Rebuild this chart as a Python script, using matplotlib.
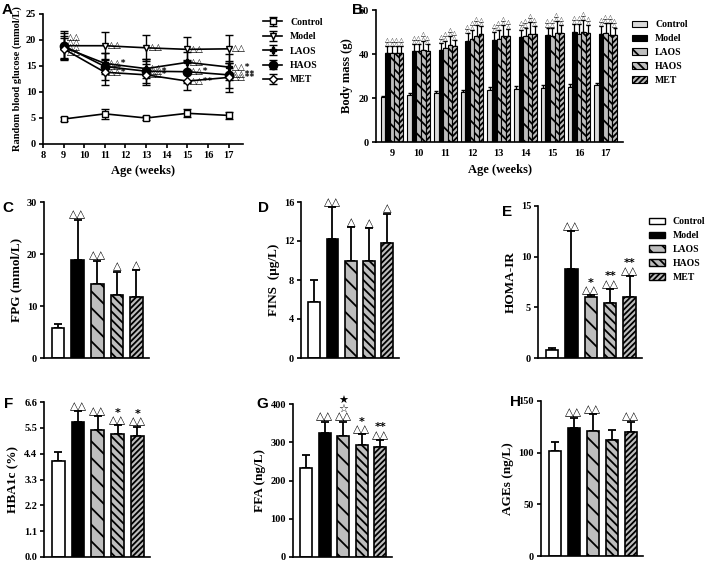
import numpy as np
import matplotlib
matplotlib.use('Agg')
import matplotlib.pyplot as plt
from matplotlib.patches import Patch

plt.rcParams['font.family'] = ['Liberation Serif', 'DejaVu Sans']
plt.rcParams['font.weight'] = 'bold'
plt.rcParams['hatch.linewidth'] = 1.3
plt.rcParams['axes.linewidth'] = 1.2

groups = ['Control', 'Model', 'LAOS', 'HAOS', 'MET']

# panel A: random blood glucose
weeks_a = [9, 11, 13, 15, 17]
glu_mean = {
    'Control': [4.8, 5.8, 5.0, 5.9, 5.5],
    'Model':   [18.9, 18.9, 18.5, 18.2, 18.3],
    'LAOS':    [18.6, 15.5, 14.5, 15.7, 14.8],
    'HAOS':    [18.9, 14.9, 14.0, 13.9, 13.3],
    'MET':     [18.3, 13.8, 13.3, 12.1, 12.8],
}
glu_err = {
    'Control': [0.4, 1.0, 0.4, 0.8, 0.7],
    'Model':   [2.8, 2.6, 2.5, 2.3, 2.7],
    'LAOS':    [2.2, 2.0, 1.8, 2.0, 2.5],
    'HAOS':    [2.4, 2.6, 2.3, 2.2, 2.6],
    'MET':     [2.0, 2.4, 2.0, 1.8, 2.8],
}
glu_marks = {
    'Model': ['△△', '△△', '△△', '△△', '△△'],
    'LAOS':  ['△△', '△△*', '△△', '△△', '△△*'],
    'HAOS':  ['△△', '△△', '△△*', '△△*', '△△**'],
    'MET':   ['△△', '△△*', '△△*', '△△**', '△△**'],
}

# panel B: body mass
weeks_b = [9, 10, 11, 12, 13, 14, 15, 16, 17]
bm_mean = {
    'Control': [20.5, 21.5, 22.5, 22.8, 23.8, 24.2, 24.7, 25.2, 25.8],
    'Model':   [40.5, 41.5, 42.0, 46.0, 46.5, 47.5, 48.5, 50.0, 49.0],
    'LAOS':    [40.5, 41.5, 42.5, 47.0, 47.0, 48.0, 48.0, 49.0, 49.5],
    'HAOS':    [40.5, 42.0, 44.0, 48.0, 48.0, 49.0, 49.5, 50.0, 48.5],
    'MET':     [40.5, 41.5, 43.5, 49.0, 48.0, 49.0, 49.5, 49.5, 48.5],
}
bm_err = {
    'Control': [0.6, 0.7, 0.8, 1.0, 1.0, 1.2, 1.0, 1.0, 0.8],
    'Model':   [3.0, 3.0, 3.0, 3.5, 3.5, 3.5, 3.5, 3.5, 3.5],
    'LAOS':    [3.0, 3.0, 3.5, 4.0, 4.0, 4.0, 4.0, 4.5, 4.5],
    'HAOS':    [3.0, 4.0, 4.0, 5.0, 5.0, 5.5, 5.5, 5.5, 5.5],
    'MET':     [3.0, 3.0, 3.0, 3.5, 3.5, 3.5, 3.5, 3.5, 3.5],
}

# panels C-H
fpg = [5.8, 18.8, 14.3, 12.1, 11.7]
fpg_err = [0.8, 7.8, 4.4, 4.5, 5.2]
fins = [5.7, 12.2, 10.0, 9.9, 11.8]
fins_err = [2.3, 3.3, 3.4, 3.4, 3.0]
homa = [0.8, 8.8, 6.0, 5.4, 6.0]
homa_err = [0.15, 3.7, 0.2, 1.4, 2.1]
hba1c = [4.1, 5.75, 5.4, 5.25, 5.15]
hba1c_err = [0.35, 0.45, 0.6, 0.35, 0.4]
ffa = [233, 324, 316, 294, 288]
ffa_err = [33, 30, 38, 27, 18]
ages = [102, 124, 121, 112, 120]
ages_err = [8, 10, 16, 10, 10]

fpg_marks = ['', '△△', '△△', '△', '△']
fins_marks = ['', '△△', '△', '△', '△']
homa_marks = ['', '△△', '*\n△△', '**\n△△', '**\n△△']
hba1c_marks = ['', '△△', '△△', '*\n△△', '*\n△△']
ffa_marks = ['', '△△', '★\n☆\n△△', '*\n△△', '**\n△△']
ages_marks = ['', '△△', '△△', '', '△△']

fills = {'Control': 'white', 'Model': 'black', 'LAOS': '#bdbdbd', 'HAOS': '#bdbdbd', 'MET': '#bdbdbd'}
hatches = {'Control': None, 'Model': None, 'LAOS': '\\\\', 'HAOS': '\\\\\\\\', 'MET': '//////'}

W, H = 708, 564
fig = plt.figure(figsize=(W / 100, H / 100), dpi=100)


def ax_at(x0, y0, x1, y1):
    ax = fig.add_axes([x0 / W, 1 - y1 / H, (x1 - x0) / W, (y1 - y0) / H])
    ax.spines['top'].set_visible(False)
    ax.spines['right'].set_visible(False)
    ax.tick_params(labelsize=7.5, width=1.2, length=3, pad=2)
    return ax


def letter(x, y, s):
    fig.text(x / W, 1 - y / H, s, fontsize=11, fontweight='bold',
             family='Liberation Sans', va='center', ha='left')


def bar_panel(ax, vals, errs, marks, ymax, ticks, ylabel, fmt=None):
    x = np.arange(len(groups))
    for i, g in enumerate(groups):
        ax.bar(x[i], vals[i], width=0.64, color=fills[g], edgecolor='black',
               hatch=hatches[g], linewidth=1.2, zorder=2)
    ax.errorbar(x, vals, yerr=[np.zeros(len(vals)), errs], fmt='none',
                ecolor='black', capsize=3, elinewidth=1.3, capthick=1.3, zorder=1)
    for i, m in enumerate(marks):
        if m:
            ax.text(x[i], vals[i] + errs[i], m, ha='center', va='bottom',
                    fontsize=8, linespacing=0.7, family=['DejaVu Sans'])
    ax.set_xlim(-0.72, 4.64)
    ax.set_ylim(0, ymax)
    ax.set_yticks(ticks)
    if fmt:
        ax.set_yticklabels([fmt % t for t in ticks])
    ax.set_xticks([])
    ax.set_ylabel(ylabel, fontsize=9.5, fontweight='bold', labelpad=3)


# ---- A ----
ax = ax_at(43, 14, 243, 144)
markers = {'Control': ('s', 'white'), 'Model': ('v', 'white'), 'LAOS': ('P', 'black'),
           'HAOS': ('o', 'black'), 'MET': ('D', 'white')}
msizes = {'Control': 5, 'Model': 5, 'LAOS': 4, 'HAOS': 6, 'MET': 4}
for g in groups:
    m, fc = markers[g]
    ax.errorbar(weeks_a, glu_mean[g], yerr=glu_err[g], color='black', marker=m,
                mfc=fc, mec='black', ms=msizes[g], lw=1.2, capsize=3, elinewidth=1, label=g)
for j, (g, marks) in enumerate(glu_marks.items()):
    for k, w in enumerate(weeks_a):
        # week 9 labels are stacked as a small cluster
        y = 20.5 - 1.0 * j if k == 0 else glu_mean[g][k]
        ax.text(w + 0.15, y, marks[k], fontsize=6.5, va='center', ha='left',
                family=['DejaVu Sans'])
ax.set_xlim(8, 17.7)
ax.set_ylim(0, 25)
ax.set_xticks(range(8, 18))
ax.set_yticks([0, 5, 10, 15, 20, 25])
ax.set_xlabel('Age (weeks)', fontsize=9, fontweight='bold')
ax.set_ylabel('Random blood glucose (mmol/L)', fontsize=7.5, fontweight='bold', labelpad=3)
ax.legend(loc='upper left', bbox_to_anchor=(1.08, 1.0), frameon=False, fontsize=7,
          handlelength=2, labelspacing=0.55, borderaxespad=0)
letter(2, 10, 'A')

# ---- B ----
ax = ax_at(376, 10, 623, 142)
xb = np.arange(len(weeks_b))
bw = 0.17
for j, g in enumerate(groups):
    pos = xb + (j - 2) * bw
    fc = '#d9d9d9' if g == 'Control' else fills[g]
    ax.bar(pos, bm_mean[g], width=bw, color=fc, edgecolor='black', hatch=hatches[g],
           linewidth=0.8, zorder=2, label=g)
    ax.errorbar(pos, bm_mean[g], yerr=[np.zeros(len(xb)), bm_err[g]], fmt='none',
                ecolor='black', capsize=1.5, elinewidth=0.9, zorder=1)
    if g != 'Control':
        for k in range(len(xb)):
            ax.text(pos[k], bm_mean[g][k] + bm_err[g][k], '△\n△', ha='center', va='bottom',
                    fontsize=4.5, linespacing=0.8, family=['DejaVu Sans'])
ax.set_xlim(-0.6, len(xb) - 0.35)
ax.set_ylim(0, 60)
ax.set_yticks([0, 20, 40, 60])
ax.set_xticks(xb)
ax.set_xticklabels(weeks_b)
ax.tick_params(axis='x', length=0, pad=5)
ax.set_xlabel('Age (weeks)', fontsize=9, fontweight='bold')
ax.set_ylabel('Body mass (g)', fontsize=9, fontweight='bold')
ax.legend(loc='upper left', bbox_to_anchor=(1.02, 0.95), frameon=False, fontsize=7,
          handlelength=1.6, handleheight=0.7, labelspacing=0.5, borderaxespad=0)
letter(352, 10, 'B')

# ---- C ----
ax = ax_at(44, 202, 149, 358)
bar_panel(ax, fpg, fpg_err, fpg_marks, 30, [0, 10, 20, 30], 'FPG (mmol/L)')
letter(2, 208, 'C')

# ---- D ----
ax = ax_at(301, 202, 399, 358)
bar_panel(ax, fins, fins_err, fins_marks, 16, [0, 4, 8, 12, 16], 'FINS  (μg/L)')
letter(258, 208, 'D')

# ---- E ----
ax = ax_at(538, 206, 642, 358)
bar_panel(ax, homa, homa_err, homa_marks, 15, [0, 5, 10, 15], 'HOMA-IR')
handles = [Patch(facecolor=fills[g], edgecolor='black', hatch=hatches[g], label=g) for g in groups]
ax.legend(handles=handles, loc='upper left', bbox_to_anchor=(1.03, 0.95), frameon=False,
          fontsize=7, handlelength=1.6, handleheight=0.7, labelspacing=0.5, borderaxespad=0)
letter(502, 212, 'E')

# ---- F ----
ax = ax_at(44, 402, 150, 557)
bar_panel(ax, hba1c, hba1c_err, hba1c_marks, 6.6, [0, 1.1, 2.2, 3.3, 4.4, 5.5, 6.6],
          'HBA1c (%)', fmt='%.1f')
letter(4, 404, 'F')

# ---- G ----
ax = ax_at(293, 404, 392, 557)
bar_panel(ax, ffa, ffa_err, ffa_marks, 400, [0, 100, 200, 300, 400], 'FFA (ng/L)')
letter(256, 404, 'G')

# ---- H ----
ax = ax_at(541, 401, 643, 556)
bar_panel(ax, ages, ages_err, ages_marks, 150, [0, 50, 100, 150], 'AGEs (ng/L)')
letter(510, 402, 'H')

fig.savefig('out.png', dpi=100)
